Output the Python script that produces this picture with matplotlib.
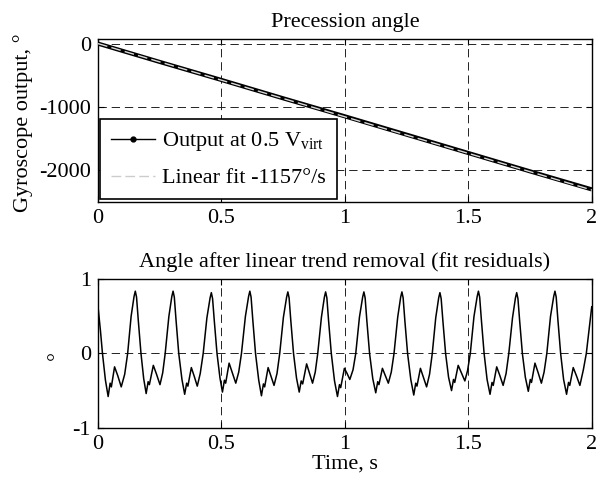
import matplotlib
matplotlib.use('Agg')
import matplotlib.pyplot as plt
from matplotlib.lines import Line2D

plt.rcParams['font.family'] = ['Liberation Serif', 'DejaVu Serif']
plt.rcParams['mathtext.fontset'] = 'custom'
plt.rcParams['mathtext.rm'] = 'Liberation Serif'
plt.rcParams['mathtext.it'] = 'Liberation Serif:italic'
plt.rcParams['axes.unicode_minus'] = False
plt.rcParams['lines.scale_dashes'] = False

FS = 16

# ---------------- data ----------------
xticks = [0, 0.5, 1, 1.5, 2]
xticklabels = ['0', '0.5', '1', '1.5', '2']
top_yticks = [-2000, -1000, 0]
bot_yticks = [-1, 0, 1]

# gyroscope output (precession angle, deg)
out_t = [0.0, 0.25, 0.5, 0.75, 1.0, 1.25, 1.5, 1.75, 2.0]
out_v = [0, -290, -575, -865, -1150, -1440, -1730, -2020, -2305]

# linear fit, slope -1157 deg/s
fit_t = [0.0, 2.0]
fit_v = [0, -2314]

# residuals after linear trend removal (deg), read cycle by cycle
res_t = [0.000, 0.010, 0.018, 0.030, 0.041, 0.049, 0.054, 0.067, 0.080, 0.094, 0.108, 0.120, 0.134, 0.146,
         0.151, 0.156, 0.163, 0.174, 0.185, 0.195, 0.203, 0.208, 0.224, 0.237, 0.251, 0.262, 0.272, 0.287, 0.299,
         0.304, 0.309, 0.316, 0.327, 0.340, 0.351, 0.359, 0.364, 0.378, 0.390, 0.402, 0.414, 0.426, 0.441, 0.454,
         0.459, 0.464, 0.471, 0.482, 0.494, 0.504, 0.512, 0.517, 0.531, 0.544, 0.558, 0.570, 0.581, 0.597, 0.610,
         0.615, 0.620, 0.627, 0.638, 0.651, 0.662, 0.670, 0.675, 0.689, 0.701, 0.713, 0.725, 0.736, 0.751, 0.764,
         0.769, 0.774, 0.781, 0.792, 0.804, 0.815, 0.823, 0.829, 0.845, 0.857, 0.869, 0.880, 0.890, 0.905, 0.917,
         0.922, 0.927, 0.934, 0.945, 0.958, 0.970, 0.978, 0.983, 0.998, 1.009, 1.020, 1.033, 1.044, 1.059, 1.072,
         1.077, 1.082, 1.089, 1.100, 1.113, 1.125, 1.133, 1.138, 1.152, 1.164, 1.176, 1.188, 1.199, 1.214, 1.226,
         1.231, 1.236, 1.243, 1.254, 1.267, 1.279, 1.287, 1.292, 1.306, 1.318, 1.331, 1.343, 1.354, 1.368, 1.380,
         1.385, 1.390, 1.397, 1.408, 1.420, 1.432, 1.440, 1.445, 1.459, 1.472, 1.486, 1.497, 1.508, 1.523, 1.536,
         1.541, 1.546, 1.553, 1.564, 1.576, 1.588, 1.596, 1.601, 1.615, 1.628, 1.641, 1.653, 1.664, 1.679, 1.691,
         1.696, 1.701, 1.708, 1.719, 1.731, 1.743, 1.751, 1.756, 1.770, 1.783, 1.796, 1.807, 1.818, 1.833, 1.846,
         1.851, 1.856, 1.863, 1.874, 1.886, 1.898, 1.906, 1.911, 1.925, 1.938, 1.952, 1.966, 1.978, 1.990,
         2.000]
res_v = [0.63, 0.30, 0.00, -0.36, -0.58, -0.40, -0.45, -0.18, -0.30, -0.45, -0.28, 0.00, 0.50, 0.77,
         0.84, 0.76, 0.45, 0.00, -0.34, -0.54, -0.38, -0.42, -0.16, -0.28, -0.42, -0.26, 0.00, 0.50, 0.77,
         0.84, 0.76, 0.45, 0.00, -0.35, -0.55, -0.40, -0.44, -0.19, -0.31, -0.44, -0.27, 0.00, 0.48, 0.75,
         0.82, 0.74, 0.44, 0.00, -0.33, -0.52, -0.36, -0.40, -0.13, -0.26, -0.40, -0.25, 0.00, 0.50, 0.77,
         0.84, 0.76, 0.45, 0.00, -0.36, -0.57, -0.41, -0.45, -0.19, -0.31, -0.43, -0.27, 0.00, 0.49, 0.76,
         0.83, 0.75, 0.44, 0.00, -0.33, -0.52, -0.37, -0.41, -0.14, -0.27, -0.40, -0.25, 0.00, 0.49, 0.76,
         0.83, 0.75, 0.44, 0.00, -0.37, -0.58, -0.42, -0.46, -0.20, -0.27, -0.35, -0.22, 0.00, 0.49, 0.76,
         0.83, 0.75, 0.44, 0.00, -0.34, -0.53, -0.38, -0.42, -0.20, -0.30, -0.40, -0.25, 0.00, 0.49, 0.76,
         0.83, 0.75, 0.44, 0.00, -0.35, -0.56, -0.40, -0.44, -0.20, -0.32, -0.45, -0.28, 0.00, 0.48, 0.75,
         0.82, 0.74, 0.44, 0.00, -0.32, -0.50, -0.35, -0.39, -0.16, -0.26, -0.37, -0.23, 0.00, 0.50, 0.77,
         0.84, 0.76, 0.45, 0.00, -0.35, -0.55, -0.39, -0.43, -0.18, -0.30, -0.43, -0.27, 0.00, 0.48, 0.75,
         0.82, 0.74, 0.44, 0.00, -0.32, -0.51, -0.35, -0.39, -0.13, -0.26, -0.40, -0.25, 0.00, 0.50, 0.77,
         0.84, 0.76, 0.45, 0.00, -0.35, -0.55, -0.39, -0.43, -0.19, -0.30, -0.43, -0.22, 0.00, 0.35,
         0.63]

# ---------------- figure ----------------
fig = plt.figure(figsize=(6.04, 4.87), dpi=100)
ax1 = fig.add_axes([0.1623, 0.5858, 0.8174, 0.3331])
ax2 = fig.add_axes([0.1623, 0.1218, 0.8174, 0.3047])

grid_kw = dict(color='#222222', linewidth=0.7, linestyle=(0, (6, 3.5)))

for ax in (ax1, ax2):
    ax.set_xlim(0, 2)
    ax.set_xticks(xticks)
    ax.set_xticklabels(xticklabels)
    ax.grid(True, **grid_kw)
    ax.set_axisbelow(True)
    ax.tick_params(direction='in', length=4, width=0.8, top=True, right=True,
                   labelsize=FS, pad=5)
    for s in ax.spines.values():
        s.set_linewidth(1.0)
        s.set_color('black')

# top panel
ax1.plot(out_t, out_v, color='black', linewidth=3.0, solid_capstyle='butt', zorder=3)
ax1.plot(fit_t, fit_v, color='#d8d8d8', linewidth=1.0, linestyle=(0, (7, 3)), zorder=4)
ax1.set_ylim(-2500, 65)
ax1.set_yticks(top_yticks)
ax1.set_yticklabels([str(v) for v in top_yticks])
ax1.set_title('Precession angle', fontsize=FS, pad=9)
ax1.set_ylabel('Gyroscope output, °', fontsize=FS)
ax1.yaxis.set_label_coords(-0.1317, 0.49)

handles = [Line2D([], [], color='black', linewidth=1.0, marker='.', markersize=7),
           Line2D([], [], color='#cccccc', linewidth=1.0, linestyle=(0, (7, 3)))]
labels = ['Output at 0.5 V$_{\\mathrm{virt}}$', 'Linear fit -1157°/s']
leg = ax1.legend(handles, labels, loc='lower left', bbox_to_anchor=(0.003, 0.014),
                 borderaxespad=0, fancybox=False, framealpha=1, edgecolor='black',
                 fontsize=FS, handlelength=2.0, handletextpad=0.3, borderpad=0.5,
                 labelspacing=0.65)
leg.get_frame().set_linewidth(1.2)

# bottom panel
ax2.plot(res_t, res_v, color='black', linewidth=1.1, zorder=3)
ax2.set_ylim(-1, 1)
ax2.set_yticks(bot_yticks)
ax2.set_yticklabels([str(v) for v in bot_yticks])
ax2.set_title('Angle after linear trend removal (fit residuals)', fontsize=FS, pad=9)
ax2.set_xlabel('Time, s', fontsize=FS)
ax2.xaxis.set_label_coords(0.5, -0.178)
ax2.set_ylabel('°', fontsize=FS)
ax2.yaxis.set_label_coords(-0.062, 0.487)

fig.savefig('out.png', dpi=100)
